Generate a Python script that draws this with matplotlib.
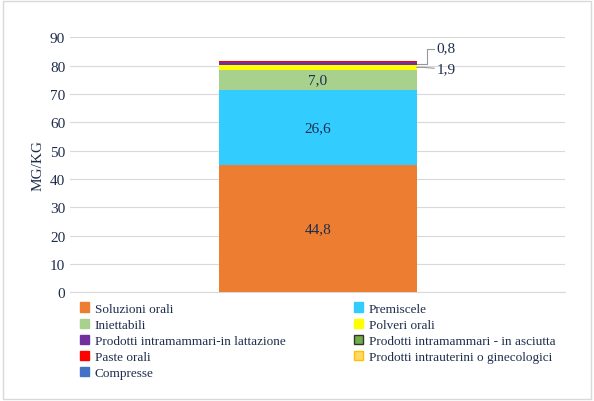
import matplotlib.pyplot as plt
from matplotlib.patches import Patch

categories = ["Soluzioni orali", "Premiscele", "Iniettabili", "Polveri orali",
              "Prodotti intramammari-in lattazione", "Prodotti intramammari - in asciutta",
              "Paste orali", "Prodotti intrauterini o ginecologici", "Compresse"]
values = [44.8, 26.6, 7.0, 1.9, 0.8, 0.3, 0.1, 0.1, 0.1]
labels = ["44,8", "26,6", "7,0", "1,9", "0,8", "", "", "", ""]
colors = ["#ED7D31", "#33CCFF", "#A9D18E", "#FFFF00", "#7030A0",
          "#70AD47", "#FF0000", "#FFD966", "#4472C4"]
edges = [None, None, None, None, None, "#333333", None, "#FFC000", None]

plt.rcParams['font.family'] = ['Liberation Serif', 'DejaVu Serif']
txt = "#1F2D4D"

fig = plt.figure(figsize=(5.94, 4.02), dpi=100)
ax = fig.add_axes([0.118, 0.27, 0.834, 0.635])
bottom = 0
for v, c, lab in zip(values, colors, labels):
    ax.bar(0, v, bottom=bottom, width=0.4, color=c, zorder=3)
    if lab and v > 5:
        ax.text(0, bottom + v / 2, lab, ha="center", va="center", fontsize=11, color=txt, zorder=4)
    bottom += v

# callouts for the small segments
y19 = values[0] + values[1] + values[2] + values[3] / 2
y08 = y19 + values[3] / 2 + values[4] / 2
ax.plot([0.2, 0.215, 0.235], [y19, y19, y19 - 0.3], color="#999999", lw=0.8, zorder=4)
ax.text(0.24, y19 - 0.3, labels[3], va="center", fontsize=11, color=txt)
ax.plot([0.2, 0.22, 0.22, 0.235], [y08, y08, 86, 86], color="#999999", lw=0.8, zorder=4)
ax.text(0.24, 86.3, labels[4], va="center", fontsize=11, color=txt)

ax.set_xlim(-0.5, 0.5)
ax.set_ylim(0, 90)
ax.set_yticks(range(0, 91, 10))
ax.set_xticks([])
ax.tick_params(axis="y", length=0, labelsize=11, labelcolor=txt)
ax.set_ylabel("MG/KG", fontsize=11, color=txt)
ax.grid(axis="y", color="#D9D9D9", lw=0.8, zorder=0)
for s in ["top", "right", "left"]:
    ax.spines[s].set_visible(False)
ax.spines["bottom"].set_color("#D9D9D9")

handles = [Patch(facecolor=c, edgecolor=e if e else c, label=n)
           for c, e, n in zip(colors, edges, categories)]
order = [0, 2, 4, 6, 8, 1, 3, 5, 7]  # row-wise legend layout
fig.legend(handles=[handles[i] for i in order], loc="upper left", bbox_to_anchor=(0.115, 0.275),
           ncol=2, frameon=False, fontsize=9.5, handlelength=0.7, handleheight=0.7,
           handletextpad=0.4, columnspacing=5.2, labelspacing=0.3, labelcolor=txt)

fig.patches.append(plt.Rectangle((0.005, 0.005), 0.99, 0.99, transform=fig.transFigure,
                                 fill=False, edgecolor="#D9D9D9", lw=1))
fig.savefig("out.png", dpi=100)
